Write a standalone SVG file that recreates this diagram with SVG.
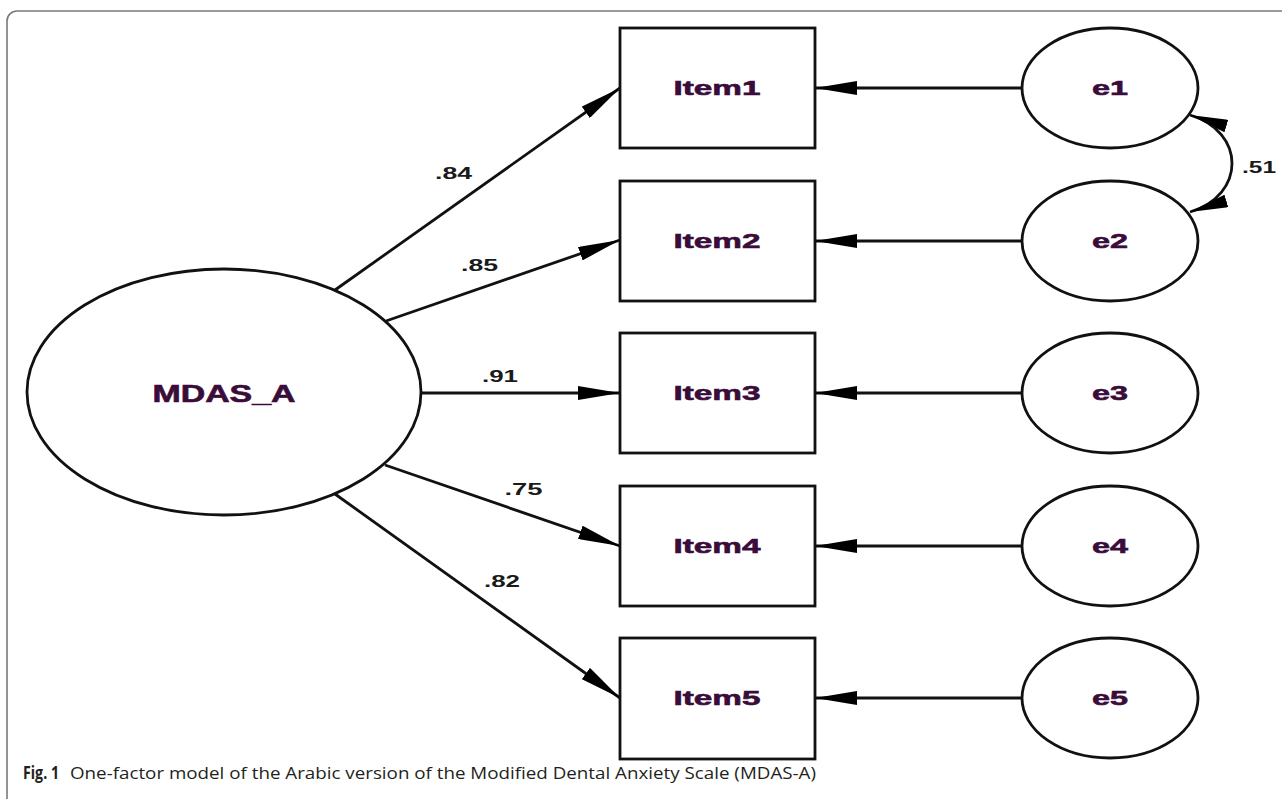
<svg xmlns="http://www.w3.org/2000/svg" width="1282" height="799" viewBox="0 0 1282 799">
<style>
.frame{fill:none;stroke:#7a7a7a;stroke-width:1.6}
.box{fill:#fff;stroke:#111;stroke-width:2.8}
.ell{fill:#fff;stroke:#111;stroke-width:2.8}
.edge{fill:none;stroke:#111;stroke-width:2.8}
.lbl{font-family:"Liberation Sans",Arial,sans-serif;font-weight:bold;fill:#3a0c3a;stroke:#3a0c3a;stroke-width:0.6;text-anchor:middle}
.num{font-family:"Liberation Sans",Arial,sans-serif;font-weight:bold;font-size:16px;fill:#1a1a1a;text-anchor:middle}
.cap{font-family:"Open Sans","Liberation Sans",sans-serif;font-size:17px;fill:#231f20}
</style>
<defs>
<marker id="ah" markerUnits="userSpaceOnUse" markerWidth="42" markerHeight="14" viewBox="0 0 42 14" refX="42" refY="7" orient="auto-start-reverse">
<path d="M0,0 L42,7 L0,14 z" fill="#000"/>
</marker>
<marker id="ahs" markerUnits="userSpaceOnUse" markerWidth="38" markerHeight="13" viewBox="0 0 38 13" refX="38" refY="6.5" orient="auto-start-reverse">
<path d="M0,0 L38,6.5 L0,13 z" fill="#000"/>
</marker>
</defs>
<rect width="1282" height="799" fill="#fff"/>
<rect class="frame" x="7" y="11" width="1300" height="800" rx="10"/>

<g id="connectors">
<line class="edge" x1="335" y1="290" x2="620" y2="88" marker-end="url(#ah)"/>
<line class="edge" x1="386" y1="321" x2="620" y2="240" marker-end="url(#ah)"/>
<line class="edge" x1="420" y1="393" x2="620" y2="393" marker-end="url(#ah)"/>
<line class="edge" x1="385" y1="465" x2="620" y2="546" marker-end="url(#ah)"/>
<line class="edge" x1="335" y1="494" x2="620" y2="698" marker-end="url(#ah)"/>
<line class="edge" x1="1022" y1="88" x2="815" y2="88" marker-end="url(#ah)"/>
<line class="edge" x1="1022" y1="241" x2="815" y2="241" marker-end="url(#ah)"/>
<line class="edge" x1="1022" y1="393" x2="815" y2="393" marker-end="url(#ah)"/>
<line class="edge" x1="1022" y1="546" x2="815" y2="546" marker-end="url(#ah)"/>
<line class="edge" x1="1022" y1="698" x2="815" y2="698" marker-end="url(#ah)"/>
<path class="edge" d="M1190,115 C1246,132 1246,195 1190,212" marker-start="url(#ahs)" marker-end="url(#ahs)"/>
<text class="num" x="453.5" y="179" textLength="37" lengthAdjust="spacingAndGlyphs">.84</text>
<text class="num" x="479.5" y="271" textLength="37" lengthAdjust="spacingAndGlyphs">.85</text>
<text class="num" x="500" y="382" textLength="36" lengthAdjust="spacingAndGlyphs">.91</text>
<text class="num" x="523.5" y="495" textLength="38" lengthAdjust="spacingAndGlyphs">.75</text>
<text class="num" x="502" y="587" textLength="36" lengthAdjust="spacingAndGlyphs">.82</text>
<text class="num" x="1259" y="173" textLength="34" lengthAdjust="spacingAndGlyphs">.51</text>
</g>

<g id="MDAS_A">
<ellipse class="ell" cx="224" cy="392" rx="197" ry="123"/>
<text class="lbl" x="224" y="402" font-size="23" textLength="143" lengthAdjust="spacingAndGlyphs">MDAS_A</text>
</g>

<g id="Item1"><rect class="box" x="620" y="28" width="195" height="120"/><text class="lbl" x="717" y="95" font-size="21" textLength="87" lengthAdjust="spacingAndGlyphs">Item1</text></g>
<g id="Item2"><rect class="box" x="620" y="181" width="195" height="120"/><text class="lbl" x="717" y="248" font-size="21" textLength="87" lengthAdjust="spacingAndGlyphs">Item2</text></g>
<g id="Item3"><rect class="box" x="620" y="333" width="195" height="120"/><text class="lbl" x="717" y="400" font-size="21" textLength="87" lengthAdjust="spacingAndGlyphs">Item3</text></g>
<g id="Item4"><rect class="box" x="620" y="486" width="195" height="120"/><text class="lbl" x="717" y="553" font-size="21" textLength="87" lengthAdjust="spacingAndGlyphs">Item4</text></g>
<g id="Item5"><rect class="box" x="620" y="638" width="195" height="121"/><text class="lbl" x="717" y="705" font-size="21" textLength="87" lengthAdjust="spacingAndGlyphs">Item5</text></g>

<g id="e1"><ellipse class="ell" cx="1110" cy="88" rx="88" ry="60"/><text class="lbl" x="1110" y="95" font-size="21" textLength="36" lengthAdjust="spacingAndGlyphs">e1</text></g>
<g id="e2"><ellipse class="ell" cx="1110" cy="241" rx="88" ry="60"/><text class="lbl" x="1110" y="248" font-size="21" textLength="36" lengthAdjust="spacingAndGlyphs">e2</text></g>
<g id="e3"><ellipse class="ell" cx="1110" cy="393" rx="88" ry="60"/><text class="lbl" x="1110" y="400" font-size="21" textLength="36" lengthAdjust="spacingAndGlyphs">e3</text></g>
<g id="e4"><ellipse class="ell" cx="1110" cy="546" rx="88" ry="60"/><text class="lbl" x="1110" y="553" font-size="21" textLength="36" lengthAdjust="spacingAndGlyphs">e4</text></g>
<g id="e5"><ellipse class="ell" cx="1110" cy="698" rx="88" ry="60"/><text class="lbl" x="1110" y="705" font-size="21" textLength="36" lengthAdjust="spacingAndGlyphs">e5</text></g>

<text class="cap" x="23" y="779"><tspan font-weight="bold" textLength="36" lengthAdjust="spacingAndGlyphs">Fig. 1</tspan><tspan x="70" textLength="746" lengthAdjust="spacingAndGlyphs">One-factor model of the Arabic version of the Modified Dental Anxiety Scale (MDAS-A)</tspan></text>
</svg>
